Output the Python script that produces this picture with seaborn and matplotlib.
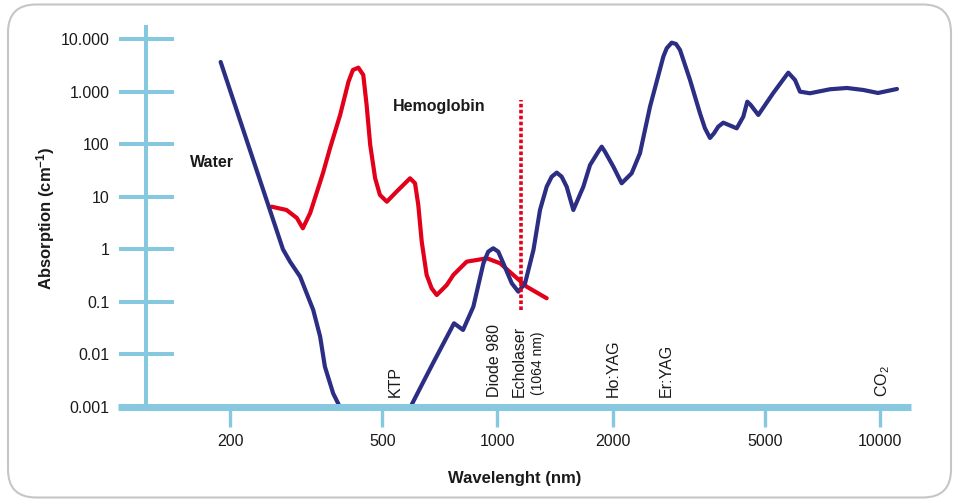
import matplotlib
matplotlib.use("Agg")
import matplotlib.pyplot as plt
import seaborn as sns
from matplotlib.ticker import NullLocator
from matplotlib.patches import FancyBboxPatch

# ---------------- data ----------------
water_nm = [189, 275, 287, 305, 330, 344, 354, 372, 384, 400,
            573, 598, 634, 679, 770, 813, 865, 919, 946, 975,
            1005, 1036, 1090, 1134, 1181, 1242, 1292, 1345, 1386, 1429,
            1472, 1517, 1579, 1677, 1746, 1835, 1873, 1910, 2009, 2112,
            2243, 2358, 2505, 2714, 2770, 2854, 2929, 3001, 3187, 3384,
            3487, 3594, 3682, 3778, 3894, 4221, 4392, 4499, 4592, 4807,
            5261, 5758, 5995, 6178, 6560, 7402, 8198, 9043, 9879, 11075]
water_abs = [3656, 1.0, 0.581, 0.301, 0.070, 0.0218, 0.00585, 0.00182, 0.00114, 0.000365,
             0.000365, 0.00114, 0.00262, 0.00688, 0.0391, 0.0292, 0.0809, 0.542, 0.9, 1.045,
             0.9, 0.542, 0.226, 0.156, 0.226, 0.97, 5.59, 15.5, 24.0, 28.7,
             24.0, 15.5, 5.59, 15.5, 40.1, 71.9, 89.5, 71.9, 37.3, 18.0,
             27.9, 67.0, 516, 4610, 6660, 8511, 8040, 6182, 1662, 386,
             200, 131, 161, 215, 256, 200, 333, 642, 556, 359,
             940, 2287, 1662, 995, 928, 1106, 1170, 1072, 940, 1120]

hb_nm = [257, 281, 299, 310, 324, 350, 365, 388, 408, 419,
         433, 446, 455, 465, 479, 493, 514, 545, 591, 609,
         621, 634, 653, 673, 694, 737, 767, 831, 938, 1016,
         1100, 1193, 1345]
hb_abs = [6.46, 5.59, 3.94, 2.51, 4.90, 28.3, 83.4, 359, 1542, 2575,
          2848, 2068, 556, 96.4, 22.4, 10.8, 8.04, 12.5, 22.4, 18.0,
          6.96, 1.40, 0.325, 0.181, 0.135, 0.209, 0.325, 0.581, 0.674, 0.542,
          0.325, 0.194, 0.117]

echolaser_nm = 1150
echolaser_abs_range = [0.07, 690]

y_ticks = [0.001, 0.01, 0.1, 1, 10, 100, 1000, 10000]
y_tick_labels = ["0.001", "0.01", "0.1", "1", "10", "100", "1.000", "10.000"]
x_ticks = [200, 500, 1000, 2000, 5000, 10000]
x_tick_labels = ["200", "500", "1000", "2000", "5000", "10000"]

laser_names = ["KTP", "Diode 980", "Echolaser", "Ho:YAG", "Er:YAG", "CO$_2$"]
laser_label_nm = [540, 980, 1139, 2005, 2760, 10180]

# ---------------- style ----------------
sns.set_style("white")
plt.rcParams['font.family'] = ['Liberation Sans', 'DejaVu Sans']
plt.rcParams['mathtext.fontset'] = 'custom'
plt.rcParams['mathtext.rm'] = 'Liberation Sans'
plt.rcParams['mathtext.bf'] = 'Liberation Sans:bold'
plt.rcParams['mathtext.it'] = 'Liberation Sans:italic'

NAVY = '#2b2e83'
RED = '#e2001a'
BLUE = '#86c8e0'
TXT = '#1a1a1a'

fig = plt.figure(figsize=(9.56, 5.01), dpi=100)
ax = fig.add_axes([118 / 956, 94 / 501, (911 - 118) / 956, 380 / 501])

sns.lineplot(x=hb_nm, y=hb_abs, ax=ax, color=RED, lw=3.0, sort=False,
             estimator=None, solid_joinstyle='round', solid_capstyle='round')
sns.lineplot(x=water_nm, y=water_abs, ax=ax, color=NAVY, lw=3.0, sort=False,
             estimator=None, solid_joinstyle='round', solid_capstyle='round')
ax.plot([echolaser_nm, echolaser_nm], echolaser_abs_range, color=RED, lw=2.6,
        ls=(0, (1, 0.65)), zorder=3)

ax.set_xscale('log')
ax.set_yscale('log')
ax.set_xlim(101.9, 12051)
ax.set_ylim(0.001, 10 ** 4.228)

for s in ['top', 'right']:
    ax.spines[s].set_visible(False)
ax.spines['left'].set_position(('data', 120.6))
ax.spines['left'].set_color(BLUE)
ax.spines['left'].set_linewidth(2.9)
ax.spines['bottom'].set_color(BLUE)
ax.spines['bottom'].set_linewidth(5)
ax.spines['bottom'].set_capstyle('butt')
ax.spines['bottom'].set_zorder(2.5)

ax.set_xticks(x_ticks, x_tick_labels)
ax.set_yticks(y_ticks, y_tick_labels)
ax.xaxis.set_minor_locator(NullLocator())
ax.yaxis.set_minor_locator(NullLocator())
ax.tick_params(axis='y', left=True, direction='inout', length=39.6, width=2.9,
               color=BLUE, pad=6.5, labelsize=11.5, labelcolor=TXT)
ax.tick_params(axis='x', bottom=True, direction='out', length=14.4, width=2.4,
               color=BLUE, pad=5, labelsize=11.5, labelcolor=TXT)
ax.set_xlabel("")
ax.set_ylabel("")

ax.text(157, 43.8, "Water", fontweight='bold', fontsize=11.5, ha='left',
        va='center', color=TXT)
ax.text(533, 509, "Hemoglobin", fontweight='bold', fontsize=11.5, ha='left',
        va='center', color=TXT)
for name, xnm in zip(laser_names, laser_label_nm):
    ax.text(xnm, 0.00155, name, rotation=90, ha='center', va='bottom',
            fontsize=11.5, color=TXT)
ax.text(1276, 0.00172, "(1064 nm)", rotation=90, ha='center', va='bottom',
        fontsize=10, color=TXT)

fig.text(515 / 956, 1 - 478 / 501, "Wavelenght (nm)", ha='center', va='center',
         fontweight='bold', fontsize=12, color=TXT)
fig.text(46 / 956, 1 - 218.5 / 501, r"Absorption (cm$^{\mathbf{-1}}$)", rotation=90,
         ha='center', va='center', fontweight='bold', fontsize=12, color=TXT)

fig.patches.append(FancyBboxPatch((0.08, 0.035), 9.43, 4.93,
                                  boxstyle="round,pad=0,rounding_size=0.28",
                                  transform=fig.dpi_scale_trans, fill=False,
                                  ec='#c6c6c6', lw=1.5))

fig.savefig("out.png", dpi=100)
